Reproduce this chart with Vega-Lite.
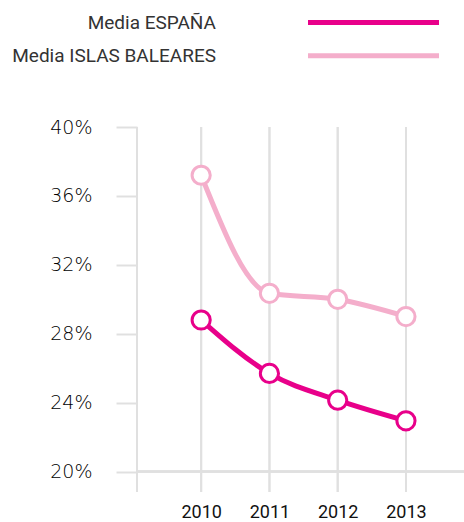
{
  "$schema": "https://vega.github.io/schema/vega-lite/v6.json",
  "autosize": {"type": "none"},
  "padding": {"left": 137, "top": 0, "right": 0, "bottom": 30},
  "width": 327,
  "height": 492,
  "background": "white",
  "config": {"view": {"stroke": null}},
  "datasets": {
    "serie": [
      {"anio": 2010, "serie": "Media ESPAÑA", "valor": 28.8},
      {"anio": 2011, "serie": "Media ESPAÑA", "valor": 25.7},
      {"anio": 2012, "serie": "Media ESPAÑA", "valor": 24.15},
      {"anio": 2013, "serie": "Media ESPAÑA", "valor": 22.95},
      {"anio": 2010, "serie": "Media ISLAS BALEARES", "valor": 37.2},
      {"anio": 2011, "serie": "Media ISLAS BALEARES", "valor": 30.35},
      {"anio": 2012, "serie": "Media ISLAS BALEARES", "valor": 30.0},
      {"anio": 2013, "serie": "Media ISLAS BALEARES", "valor": 29.0}
    ],
    "leyenda": [
      {"serie": "Media ESPAÑA"},
      {"serie": "Media ISLAS BALEARES"}
    ]
  },
  "layer": [
    {
      "data": {"name": "serie"},
      "mark": {"type": "rule", "color": "#e0e0e0", "strokeWidth": 2},
      "encoding": {
        "x": {"field": "anio", "type": "quantitative", "scale": {"domain": [2009.06, 2013.85], "nice": false, "zero": false},
          "axis": {"values": [2010, 2011, 2012, 2013], "format": "d", "title": null, "grid": false, "ticks": false, "domain": false,
            "labelFont": "Roboto", "labelFontWeight": "normal", "labelFontSize": 18, "labelColor": "#111111", "labelPadding": 11}},
        "y": {"datum": 40, "type": "quantitative", "scale": {"domain": [18.82, 47.37], "nice": false, "zero": false},
          "axis": {"values": [20, 24, 28, 32, 36, 40], "labelExpr": "datum.value + '%'", "title": null, "grid": false, "domain": false,
            "tickSize": 21, "tickColor": "#e0e0e0", "tickWidth": 2, "labelPadding": 24,
            "labelFont": "DejaVu Sans", "labelFontWeight": 200, "labelFontSize": 19, "labelColor": "#000000"}},
        "y2": {"datum": 18.82}
      }
    },
    {
      "data": {"name": "serie"},
      "mark": {"type": "rule", "color": "#e0e0e0", "strokeWidth": 2},
      "encoding": {
        "x": {"datum": 2009.06, "type": "quantitative"},
        "y": {"datum": 40, "type": "quantitative"},
        "y2": {"datum": 18.82}
      }
    },
    {
      "data": {"name": "serie"},
      "mark": {"type": "rule", "color": "#e0e0e0", "strokeWidth": 2},
      "encoding": {
        "y": {"datum": 20, "type": "quantitative"}
      }
    },
    {
      "data": {"name": "serie"},
      "mark": {"type": "line", "interpolate": "monotone", "strokeWidth": 5},
      "encoding": {
        "x": {"field": "anio", "type": "quantitative"},
        "y": {"field": "valor", "type": "quantitative"},
        "color": {"field": "serie", "type": "nominal", "legend": null,
          "scale": {"domain": ["Media ESPAÑA", "Media ISLAS BALEARES"], "range": ["#e8008a", "#f4aecb"]}}
      }
    },
    {
      "data": {"name": "serie"},
      "mark": {"type": "point", "filled": true, "fill": "white", "size": 330, "strokeWidth": 3, "opacity": 1},
      "encoding": {
        "x": {"field": "anio", "type": "quantitative"},
        "y": {"field": "valor", "type": "quantitative"},
        "stroke": {"field": "serie", "type": "nominal", "legend": null,
          "scale": {"domain": ["Media ESPAÑA", "Media ISLAS BALEARES"], "range": ["#e8008a", "#f4aecb"]}}
      }
    },
    {
      "data": {"name": "leyenda"},
      "transform": [{"filter": "datum.serie == 'Media ESPAÑA'"}],
      "layer": [
        {
          "mark": {"type": "text", "align": "right", "baseline": "middle", "font": "Roboto", "fontSize": 19, "color": "#333333"},
          "encoding": {
            "x": {"datum": 2010.217, "type": "quantitative"},
            "y": {"datum": 46.06, "type": "quantitative"},
            "text": {"field": "serie"}
          }
        },
        {
          "mark": {"type": "rule", "strokeWidth": 5, "color": "#e8008a"},
          "encoding": {
            "x": {"datum": 2011.565, "type": "quantitative"},
            "x2": {"datum": 2013.484},
            "y": {"datum": 46.06, "type": "quantitative"}
          }
        }
      ]
    },
    {
      "data": {"name": "leyenda"},
      "transform": [{"filter": "datum.serie == 'Media ISLAS BALEARES'"}],
      "layer": [
        {
          "mark": {"type": "text", "align": "right", "baseline": "middle", "font": "Roboto", "fontSize": 19, "color": "#333333"},
          "encoding": {
            "x": {"datum": 2010.217, "type": "quantitative"},
            "y": {"datum": 44.13, "type": "quantitative"},
            "text": {"field": "serie"}
          }
        },
        {
          "mark": {"type": "rule", "strokeWidth": 5, "color": "#f4aecb"},
          "encoding": {
            "x": {"datum": 2011.565, "type": "quantitative"},
            "x2": {"datum": 2013.484},
            "y": {"datum": 44.13, "type": "quantitative"}
          }
        }
      ]
    }
  ]
}
